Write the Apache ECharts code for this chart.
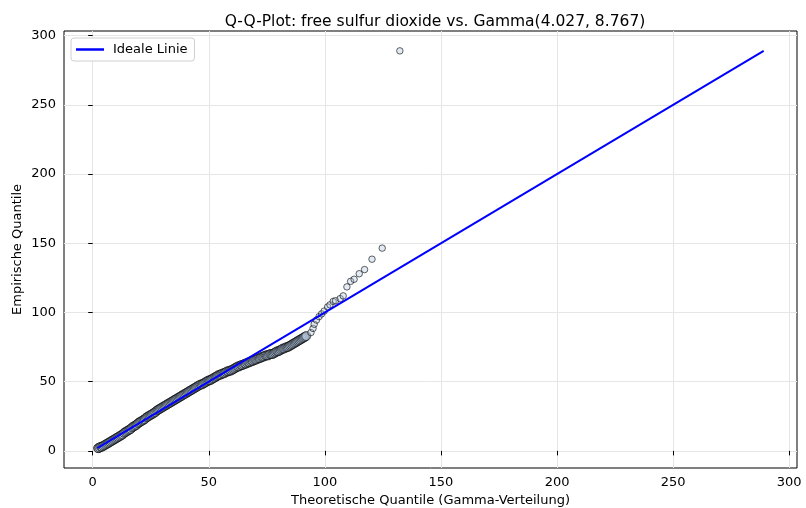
<!DOCTYPE html>
<html>
<head>
<meta charset="utf-8">
<title>Q-Q-Plot</title>
<script src="https://cdn.jsdelivr.net/npm/echarts@6/dist/echarts.min.js"></script>
<style>
    html, body { margin: 0; padding: 0; background: #fff; }
    #chart { width: 806px; height: 508px; }
</style>
</head>
<body>
<div id="chart"></div>
<script>
// theoretische Quantile (x) und empirische Quantile (y)
const theoQ = [
    2.3, 2.6, 3, 3.5, 4, 4.5, 5, 5.5, 6, 6.5, 7, 7.5, 8, 8.5, 9, 9.5, 10, 10.5, 11, 11.5,
    12, 12.5, 13, 13.5, 14, 14.5, 15, 15.5, 16, 16.5, 17, 17.5, 18, 18.5, 19, 19.5,
    20, 20.5, 21, 21.5, 22, 22.5, 23, 23.5, 24, 24.5, 25, 25.5, 26, 26.5, 27, 27.5,
    28, 28.5, 29, 29.5, 30, 30.5, 31, 31.5, 32, 32.5, 33, 33.5, 34, 34.5, 35, 35.5,
    36, 36.5, 37, 37.5, 38, 38.5, 39, 39.5, 40, 40.5, 41, 41.5, 42, 42.5, 43, 43.5,
    44, 44.5, 45, 45.5, 46, 46.5, 47, 47.5, 48, 48.5, 49, 49.5, 50, 50.5, 51, 51.5,
    52, 52.5, 53, 53.5, 54, 54.5, 55, 55.5, 56, 56.5, 57, 57.5, 58, 58.5, 59, 59.5,
    60, 60.5, 61, 61.5, 62, 62.5, 63, 63.5, 64, 64.5, 65, 65.5, 66, 66.5, 67, 67.5,
    68, 68.5, 69, 69.5, 70, 70.5, 71, 71.5, 72, 72.5, 73, 73.5, 74, 74.5, 75, 75.5,
    76, 76.5, 77, 77.5, 78, 78.5, 79, 79.5, 80, 80.5, 81, 81.5, 82, 82.5, 83, 83.5,
    84, 84.5, 85, 85.5, 86, 86.5, 87, 87.5, 88, 88.5, 89, 89.5, 90, 90.5, 91, 91.5, 92,
    94, 94.9, 95.4, 96.4, 97.5, 98.6, 99.7, 101.2, 102.2, 103.6, 104.6, 106.6,
    107.9, 109.5, 111.1, 112.6, 114.8, 117.1, 120.3, 124.7, 132.3
];
const empQ = [
    2, 2, 2.5, 3, 3, 3.5, 4, 4.5, 5, 5.5, 6, 6.5, 7, 7.5, 8, 8.5, 9, 9.5, 10, 10.5,
    11, 11.5, 12, 13, 13.5, 14, 14.5, 15, 15.5, 16, 17, 17.5, 18, 18.5, 19, 20,
    20.5, 21, 21.5, 22, 22.5, 23, 24, 24.5, 25, 25.5, 26, 26.5, 27, 27.5, 28, 29,
    29.5, 30, 30.5, 31, 31.5, 32, 32.5, 33, 33.5, 34, 34.5, 35, 35.5, 36, 36.5, 37,
    37.5, 38, 38.5, 39, 39.5, 40, 40.5, 41, 41.5, 42, 42.5, 43, 43.5, 44, 44.5, 45,
    45.5, 46, 46.5, 47, 47.5, 48, 48, 48.5, 49, 49.5, 50, 50.5, 51, 51, 51.5, 52,
    52.5, 53, 53.5, 54, 54.5, 55, 55, 55.5, 56, 56, 56.5, 57, 57.5, 57.5, 58, 58,
    58.5, 59, 59.5, 60, 60.5, 61, 61, 61.5, 62, 62, 62.5, 63, 63, 63.5, 64, 64,
    64.5, 65, 65, 65.5, 66, 66, 66.5, 67, 67, 67.5, 68, 68, 68.5, 69, 69, 69,
    69.5, 70, 70, 70, 70.5, 71, 71.5, 72, 72, 72.5, 73, 73.5, 74, 74, 74.5, 75,
    75, 75.5, 76, 76.5, 77, 77.5, 78, 78.5, 79, 79.5, 80, 80.5, 81, 81.5, 82, 82.5, 83,
    85.5, 88.5, 91.5, 94.5, 97, 99, 101, 104, 105.5, 108, 108.5, 110,
    112, 118.5, 122.5, 124, 128, 131, 138.5, 146.5, 289
];
// ideale Linie y = x
const lineEnds = [2, 289];
const ticks = [0, 50, 100, 150, 200, 250, 300];
const axisMin = -12.35;
const axisMax = 303.35;

const chart = echarts.init(document.getElementById('chart'), null, { renderer: 'canvas' });

const points = theoQ.map((x, i) => [x, empQ[i]]);
const font = 'DejaVu Sans';

function makeAxis(name, isX) {
    return {
        type: 'value',
        min: axisMin,
        max: axisMax,
        name: name,
        nameLocation: 'middle',
        nameGap: isX ? 26 : 40,
        nameMoveOverlap: false,
        nameTextStyle: { fontFamily: font, fontSize: 13, color: '#000' },
        axisLine: { show: false },
        axisTick: {
            show: true, length: 4.5, inside: false,
            lineStyle: { color: '#000', width: 1 },
            customValues: ticks
        },
        axisLabel: {
            fontFamily: font, fontSize: 13, color: '#000', margin: 8,
            customValues: ticks
        },
        splitLine: { show: true, lineStyle: { color: '#e6e6e6', width: 1 } }
    };
}

const option = {
    animation: false,
    backgroundColor: '#fff',
    title: {
        text: 'Q-Q-Plot: free sulfur dioxide vs. Gamma(4.027, 8.767)',
        left: 430,
        top: 9,
        textAlign: 'center',
        textStyle: { fontFamily: font, fontSize: 15.5, fontWeight: 'normal', color: '#000' }
    },
    legend: {
        data: ['Ideale Linie'],
        left: 71,
        top: 38,
        icon: 'rect',
        itemWidth: 28,
        itemHeight: 2.5,
        padding: [5, 7, 5, 5],
        backgroundColor: '#fff',
        borderColor: '#d0d0d0',
        borderWidth: 1,
        borderRadius: 3,
        textStyle: { fontFamily: font, fontSize: 13, color: '#000', padding: [0, 0, 0, 4] }
    },
    grid: {
        left: 64,
        right: 9,
        top: 31,
        bottom: 40,
        outerBoundsMode: 'none',
        show: true,
        borderColor: '#000',
        borderWidth: 1,
        backgroundColor: 'transparent'
    },
    xAxis: makeAxis('Theoretische Quantile (Gamma-Verteilung)', true),
    yAxis: makeAxis('Empirische Quantile', false),
    series: [
        {
            name: 'Daten',
            type: 'scatter',
            data: points,
            symbol: 'circle',
            // dichter Bereich wirkt im Original breiter (viele überlappende Punkte)
            symbolSize: function (val) {
                return val[0] <= 92 ? 9 : 6.5;
            },
            z: 2,
            itemStyle: {
                color: 'rgba(176, 196, 222, 0.45)',
                borderColor: 'rgba(0, 0, 0, 0.75)',
                borderWidth: 1
            }
        },
        {
            name: 'Ideale Linie',
            type: 'line',
            data: lineEnds.map(v => [v, v]),
            showSymbol: false,
            symbol: 'none',
            color: '#0000ff',
            lineStyle: { color: '#0000ff', width: 2 },
            z: 3
        }
    ]
};

chart.setOption(option);
</script>
</body>
</html>
